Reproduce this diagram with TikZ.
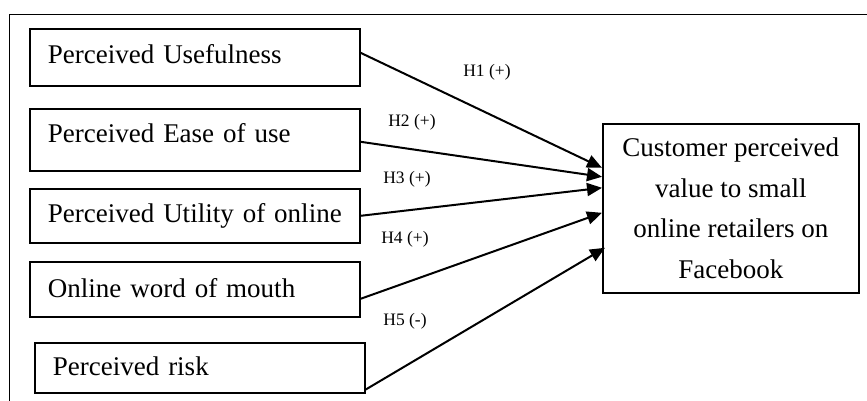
\documentclass[tikz,border=0pt]{standalone}
\usepackage{fontspec}
\setmainfont{Liberation Serif}
\usetikzlibrary{arrows.meta}
\begin{document}
\begin{tikzpicture}[x=1pt,y=-1pt,
  box/.style={draw, line width=1.6pt, anchor=north west, inner ysep=0pt, inner xsep=18pt,
    text width=294pt, align=left, font=\fontsize{27}{32}\selectfont},
  lbl/.style={font=\fontsize{17.5}{20}\selectfont, inner sep=0pt},
  conn/.style={line width=2pt, -{Triangle[length=15pt,width=13pt]}}]
\useasboundingbox (0,0) rectangle (867,401);
% partial outer frame
\draw[line width=1.6pt] (9.5,401) -- (9.5,14.5) -- (867,14.5);
% boxes
\node[box, text height=35pt, text depth=22pt] (b1) at (29,28) {Perceived Usefulness};
\node[box, text height=34pt, text depth=28pt] (b2) at (29,108) {Perceived Ease of use};
\node[box, text height=34pt, text depth=20pt] (b3) at (29,188) {Perceived Utility of online};
\node[box, text height=36pt, text depth=19pt] (b4) at (29,261) {Online word of mouth};
\node[box, text height=33pt, text depth=17pt] (b5) at (34,342) {Perceived risk};
\node[draw, line width=1.6pt, anchor=north west, minimum width=256pt, minimum height=169pt,
  align=center, inner sep=0pt, font=\fontsize{27}{40.7}\selectfont] (t) at (602,123)
  {Customer perceived\\value to small\\online retailers on\\Facebook};
% connector end points
\coordinate (s1) at ([yshift=4.5pt]b1.east);
\coordinate (s2) at ([yshift=-2pt]b2.east);
\coordinate (s3) at (b3.east);
\coordinate (s4) at ([yshift=-9.5pt]b4.east);
\coordinate (s5) at ([yshift=4pt]b5.south east);
\coordinate (e1) at ([yshift=40.5pt]t.west);
\coordinate (e2) at ([yshift=31.5pt]t.west);
\coordinate (e3) at ([yshift=20.5pt]t.west);
\coordinate (e4) at ([yshift=-4.5pt]t.west);
\coordinate (e5) at ([xshift=3pt,yshift=-39.5pt]t.west);
\draw[conn] (s1) -- (e1);
\draw[conn] (s2) -- (e2);
\draw[conn] (s3) -- (e3);
\draw[conn] (s4) -- (e4);
\draw[conn] (s5) -- (e5);
% labels
\node[lbl] (h1) at (487,72) {H1 (+)};
\node[lbl] (h2) at (412,122) {H2 (+)};
\node[lbl] (h3) at (407,179) {H3 (+)};
\node[lbl] (h4) at (405,239) {H4 (+)};
\node[lbl] (h5) at (405,321) {H5 (-)};
\end{tikzpicture}
\end{document}
